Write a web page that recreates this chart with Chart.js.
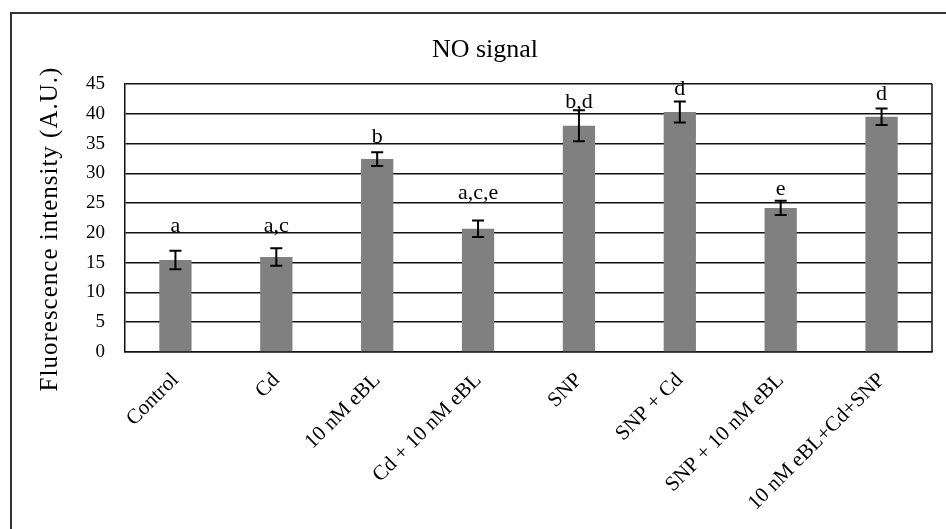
<!DOCTYPE html>
<html>
<head>
<meta charset="utf-8">
<script src="https://cdn.jsdelivr.net/npm/chart.js@4.4.0/dist/chart.umd.min.js"></script>
<style>
  html, body { margin: 0; padding: 0; background: #fff; }
  canvas { display: block; }
</style>
</head>
<body>
<canvas id="c" width="946" height="529"></canvas>
<script>
// Treatments, mean NO fluorescence, standard errors and significance groups
const categories = ['Control', 'Cd', '10 nM eBL', 'Cd + 10 nM eBL', 'SNP', 'SNP + Cd', 'SNP + 10 nM eBL', '10 nM eBL+Cd+SNP'];
const meanIntensity = [15.45, 15.95, 32.4, 20.7, 38.0, 40.3, 24.2, 39.5];
const errorSize = [1.55, 1.45, 1.15, 1.4, 2.6, 1.75, 1.2, 1.4];
const groupLetters = ['a', 'a,c', 'b', 'a,c,e', 'b,d', 'd', 'e', 'd'];
const yTickValues = [0, 5, 10, 15, 20, 25, 30, 35, 40, 45];

// Height (in axis units) of the baseline of each significance label
const letterLevel = [20.15, 20.15, 35.1, 25.7, 41.0, 43.15, 26.4, 42.3];

const SERIF = '"Liberation Serif", "Times New Roman", serif';
Chart.defaults.font.family = SERIF;
Chart.defaults.color = '#000';

const decor = {
  id: 'decor',
  beforeDraw(chart) {
    const ctx = chart.ctx;
    ctx.save();
    ctx.fillStyle = '#fff';
    ctx.fillRect(0, 0, chart.width, chart.height);
    // outer frame (top and left edges)
    ctx.strokeStyle = '#333';
    ctx.lineWidth = 2;
    ctx.beginPath();
    ctx.moveTo(11, chart.height);
    ctx.lineTo(11, 13);
    ctx.lineTo(chart.width, 13);
    ctx.stroke();
    ctx.restore();
  },
  afterDatasetsDraw(chart) {
    const ctx = chart.ctx;
    const xs = chart.scales.x, ys = chart.scales.y;
    const area = chart.chartArea;
    ctx.save();

    // right edge of the plot box
    ctx.strokeStyle = '#111';
    ctx.lineWidth = 1.5;
    ctx.beginPath();
    ctx.moveTo(area.right, area.top);
    ctx.lineTo(area.right, area.bottom);
    ctx.stroke();

    // error bars
    ctx.strokeStyle = '#000';
    ctx.lineWidth = 2;
    meanIntensity.forEach((m, i) => {
      const x = xs.getPixelForValue(i);
      const hi = ys.getPixelForValue(m + errorSize[i]);
      const lo = ys.getPixelForValue(m - errorSize[i]);
      ctx.beginPath();
      ctx.moveTo(x, hi); ctx.lineTo(x, lo);
      ctx.moveTo(x - 6, hi); ctx.lineTo(x + 6, hi);
      ctx.moveTo(x - 6, lo); ctx.lineTo(x + 6, lo);
      ctx.stroke();
    });

    // significance letters
    ctx.fillStyle = '#000';
    ctx.font = '22px ' + SERIF;
    ctx.textAlign = 'center';
    ctx.textBaseline = 'alphabetic';
    groupLetters.forEach((t, i) => {
      ctx.fillText(t, xs.getPixelForValue(i), ys.getPixelForValue(letterLevel[i]));
    });

    // chart title
    ctx.font = '26px ' + SERIF;
    ctx.fillText('NO signal', 485, 57);

    // y-axis title
    ctx.translate(50, 229);
    ctx.rotate(-Math.PI / 2);
    ctx.font = '25px ' + SERIF;
    ctx.textBaseline = 'middle';
    ctx.letterSpacing = '1px';
    ctx.fillText('Fluorescence intensity (A.U.)', 0, 0);
    ctx.restore();
  }
};

new Chart(document.getElementById('c'), {
  type: 'bar',
  data: {
    labels: categories,
    datasets: [{
      data: meanIntensity,
      backgroundColor: '#808080',
      borderWidth: 0,
      barPercentage: 0.32,
      categoryPercentage: 1.0
    }]
  },
  options: {
    responsive: false,
    animation: false,
    events: [],
    layout: { padding: { left: 0, right: 14, top: 84, bottom: 0 } },
    plugins: {
      legend: { display: false },
      title: { display: false },
      tooltip: { enabled: false }
    },
    scales: {
      x: {
        grid: { display: false },
        border: { display: true, color: '#111', width: 1.5 },
        ticks: {
          autoSkip: false,
          maxRotation: 45,
          minRotation: 45,
          padding: 8,
          color: '#000',
          font: { size: 21 }
        },
        afterFit(s) { s.height = 177; }
      },
      y: {
        min: 0,
        max: 45,
        grid: { color: '#111', lineWidth: 1.5, drawTicks: false },
        border: { display: true, color: '#111', width: 1.5 },
        ticks: { padding: 20, color: '#000', font: { size: 19 } },
        afterBuildTicks(s) { s.ticks = yTickValues.map(v => ({ value: v })); },
        afterFit(s) { s.width = 125; }
      }
    }
  },
  plugins: [decor]
});
</script>
</body>
</html>
